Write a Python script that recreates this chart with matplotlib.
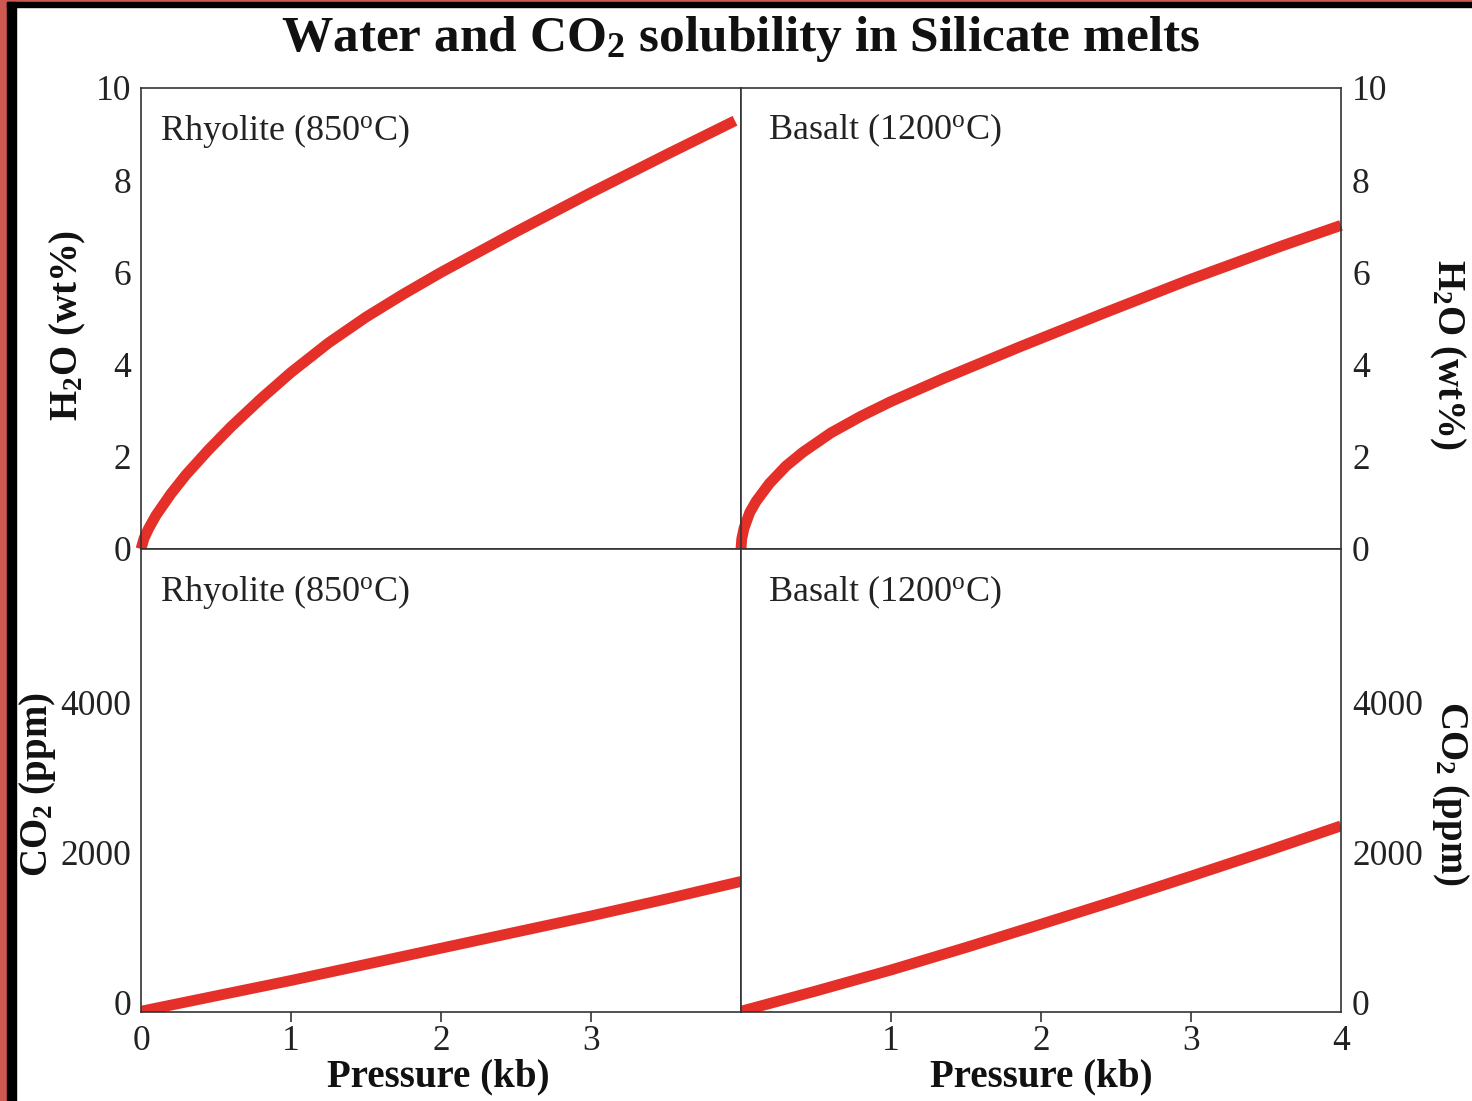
import matplotlib
matplotlib.use("Agg")
import matplotlib.pyplot as plt
from matplotlib.patches import Rectangle

# ---------------- data ----------------
rhy_h2o_p = [0, 0.02, 0.05, 0.1, 0.2, 0.3, 0.45, 0.6, 0.8, 1.0, 1.25, 1.5, 1.75, 2.0, 2.5, 3.0, 3.5, 3.96]
rhy_h2o_v = [0, 0.23, 0.44, 0.73, 1.20, 1.61, 2.15, 2.65, 3.26, 3.83, 4.47, 5.03, 5.53, 6.00, 6.88, 7.73, 8.55, 9.29]

bas_h2o_p = [0, 0.005, 0.02, 0.058, 0.1, 0.189, 0.3, 0.413, 0.6, 0.8, 1.0, 1.35, 1.87, 2.43, 2.98, 3.61, 4.0]
bas_h2o_v = [0, 0.22, 0.45, 0.79, 1.03, 1.42, 1.80, 2.10, 2.52, 2.88, 3.20, 3.70, 4.40, 5.13, 5.83, 6.58, 7.02]

rhy_co2_p = [0, 0.5, 1.0, 1.5, 2.0, 2.5, 3.0, 3.5, 4.0]
rhy_co2_v = [-110, 95, 300, 515, 730, 945, 1160, 1385, 1620]

bas_co2_p = [0, 0.5, 1.0, 1.5, 2.0, 2.5, 3.0, 3.5, 4.0]
bas_co2_v = [-110, 160, 440, 740, 1050, 1365, 1690, 2020, 2360]

h2o_ticks = [0, 2, 4, 6, 8, 10]
co2_ticks = [0, 2000, 4000]
left_xticks = [0, 1, 2, 3]
right_xticks = [1, 2, 3, 4]

title = r"Water and CO$_\mathbf{2}$ solubility in Silicate melts"
rhy_label = r"Rhyolite (850$^{\mathrm{o}}$C)"
bas_label = r"Basalt (1200$^{\mathrm{o}}$C)"
h2o_label = r"H$_\mathbf{2}$O (wt%)"
co2_label = r"CO$_\mathbf{2}$ (ppm)"
x_label = "Pressure (kb)"

# ---------------- style ----------------
plt.rcParams['font.family'] = ['Liberation Serif', 'DejaVu Serif']
plt.rcParams['mathtext.fontset'] = 'custom'
plt.rcParams['mathtext.rm'] = 'Liberation Serif'
plt.rcParams['mathtext.it'] = 'Liberation Serif:italic'
plt.rcParams['mathtext.bf'] = 'Liberation Serif:bold'

W, H = 1472, 1101
fig = plt.figure(figsize=(W / 100, H / 100), dpi=100)
fig.patch.set_facecolor('white')

# border decoration
red = '#cf5850'
fig.add_artist(Rectangle((0, 0), 7 / W, 1, transform=fig.transFigure, color=red, zorder=0))
fig.add_artist(Rectangle((0, 1 - 2 / H), 1, 2 / H, transform=fig.transFigure, color=red, zorder=0))
fig.add_artist(Rectangle((7 / W, 0), 9 / W, 1 - 2 / H, transform=fig.transFigure, color='black', zorder=0))
fig.add_artist(Rectangle((7 / W, 1 - 7 / H), 1, 5 / H, transform=fig.transFigure, color='black', zorder=0))


def px_axes(x0, y0, x1, y1):
    return fig.add_axes([x0 / W, 1 - y1 / H, (x1 - x0) / W, (y1 - y0) / H])


ax_tl = px_axes(141, 88, 741, 549)
ax_tr = px_axes(741, 88, 1341, 549)
ax_bl = px_axes(141, 549, 741, 1012)
ax_br = px_axes(741, 549, 1341, 1012)

line_color = '#e5302a'
lw = 7.8
tick_fs = 25.5
spine_c = '#333333'

for ax in (ax_tl, ax_tr, ax_bl, ax_br):
    ax.set_xlim(0, 4)
    for s in ax.spines.values():
        s.set_color(spine_c)
        s.set_linewidth(1.2)
    ax.tick_params(axis='y', length=0, pad=7, labelsize=tick_fs, colors='#222222')
    ax.tick_params(axis='x', direction='out', length=7, width=1.2, color=spine_c,
                   pad=2, labelsize=tick_fs, labelcolor='#222222')

for ax in (ax_tl, ax_tr):
    ax.set_ylim(0, 10)
    ax.set_yticks(h2o_ticks)
for ax in (ax_bl, ax_br):
    ax.set_ylim(-120, 6050)
    ax.set_yticks(co2_ticks)

# x ticks
for ax in (ax_tl, ax_tr):
    ax.set_xticks([1, 2, 3])
    ax.tick_params(axis='x', labelbottom=False)
ax_bl.set_xticks(left_xticks)
ax_br.set_xticks(right_xticks)
ax_bl.xaxis.get_major_ticks()[0].tick1line.set_visible(False)
ax_br.xaxis.get_major_ticks()[-1].tick1line.set_visible(False)

# y labels sides
ax_tr.yaxis.tick_right()
ax_br.yaxis.tick_right()
ax_tr.tick_params(axis='y', length=0, pad=8)
ax_br.tick_params(axis='y', length=0, pad=8)

# curves
ax_tl.plot(rhy_h2o_p, rhy_h2o_v, color=line_color, lw=lw, solid_capstyle='butt',
           solid_joinstyle='round', clip_on=False)
ax_tr.plot(bas_h2o_p, bas_h2o_v, color=line_color, lw=lw, solid_capstyle='butt',
           solid_joinstyle='round', clip_on=False)
ax_bl.plot(rhy_co2_p, rhy_co2_v, color=line_color, lw=lw, solid_capstyle='butt')
ax_br.plot(bas_co2_p, bas_co2_v, color=line_color, lw=lw, solid_capstyle='butt')

# panel labels
for ax, lab in ((ax_tl, rhy_label), (ax_tr, bas_label), (ax_bl, rhy_label), (ax_br, bas_label)):
    ax.text(19 / 600 if ax in (ax_tl, ax_bl) else 27 / 600, 0.888, lab, transform=ax.transAxes,
            fontsize=26, color='#222222', va='baseline', ha='left')

# title
fig.text(741 / W, 1 - 51 / H, title, ha='center', va='baseline', fontsize=37,
         fontweight='bold', color='#111111')

# axis labels
lab_kw = dict(fontsize=28, fontweight='bold', color='#111111', ha='center', va='center')
fig.text(68 / W, 1 - 325 / H, h2o_label, rotation=90, **lab_kw)
fig.text(1447 / W, 1 - 355 / H, h2o_label, rotation=270, **lab_kw)
fig.text(38 / W, 1 - 785 / H, co2_label, rotation=90, **lab_kw)
fig.text(1450 / W, 1 - 793 / H, co2_label, rotation=270, **lab_kw)
fig.text(438 / W, 1 - 1077 / H, x_label, **lab_kw)
fig.text(1041 / W, 1 - 1077 / H, x_label, **lab_kw)

fig.savefig('out.png', dpi=100, facecolor='white')
